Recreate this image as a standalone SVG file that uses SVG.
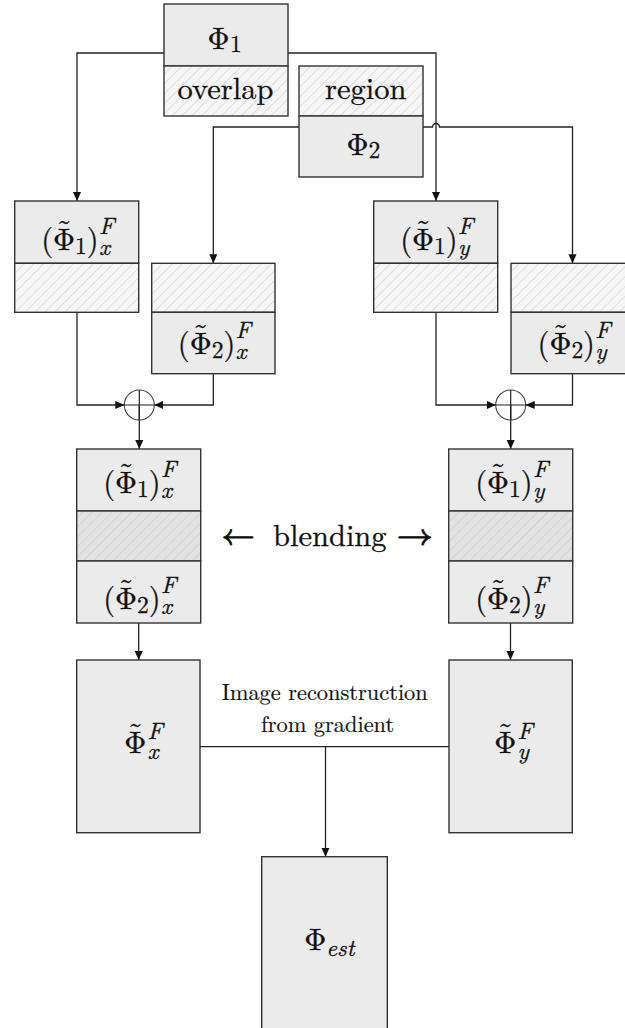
<svg xmlns="http://www.w3.org/2000/svg" width="625" height="1028" viewBox="0 0 625 1028">
<style>
.box{fill:#ebebeb;stroke:#333;stroke-width:1.4}
.hl{fill:url(#hatchL);stroke:#333;stroke-width:1.4}
.hd{fill:url(#hatchD);stroke:#333;stroke-width:1.4}
.c{fill:none;stroke:#222;stroke-width:1.3}
.a{marker-end:url(#arr)}
text{stroke:#111;stroke-width:0.3}
.t{font-size:30.5px;fill:#111}
.s{font-size:23.5px}
.i{font-style:italic;font-size:23.5px}
.w{font-size:30.5px;fill:#111}
.sm{font-size:22.4px;fill:#111;stroke-width:0.2}
.ar{font-size:30.5px;fill:#111;stroke-width:0.9}
</style>
<defs>
<pattern id="hatchL" width="7" height="7" patternUnits="userSpaceOnUse" patternTransform="rotate(45)">
<rect width="7" height="7" fill="#f6f6f6"/><line x1="0" y1="0" x2="0" y2="7" stroke="#d6d6d6" stroke-width="1.5"/>
</pattern>
<pattern id="hatchD" width="7" height="7" patternUnits="userSpaceOnUse" patternTransform="rotate(45)">
<rect width="7" height="7" fill="#e2e2e2"/><line x1="0" y1="0" x2="0" y2="7" stroke="#cdcdcd" stroke-width="1.5"/>
</pattern>
<marker id="arr" viewBox="0 0 10 10" refX="10" refY="5" markerWidth="9" markerHeight="9" markerUnits="userSpaceOnUse" orient="auto">
<path d="M0,0.5 L10,5 L0,9.5 z" fill="#111"/>
</marker>
</defs>

<g id="connectors">
<path class="c a" d="M164,53 H77 V201"/>
<path class="c a" d="M288,53 H436 V201"/>
<path class="c a" d="M299,127 H213.3 V263.3"/>
<path class="c a" d="M423,127 H432.5 A3.5,3.5 0 0 1 439.5,127 H572.5 V263.3"/>
<path class="c a" d="M77,312.3 V405 H124.3"/>
<path class="c a" d="M213.3,373.7 V405 H154.3"/>
<path class="c a" d="M139.3,405 V449"/>
<path class="c a" d="M436,312.3 V405 H495.7"/>
<path class="c a" d="M572.5,373.7 V405 H525.7"/>
<path class="c a" d="M510.7,405 V449"/>
<path class="c a" d="M138.7,623 V660"/>
<path class="c a" d="M510.5,623 V660"/>
<path class="c" d="M200,746.7 H449"/>
<path class="c a" d="M325.5,746.7 V856.7"/>
</g>

<g id="sum-x">
<circle cx="139.3" cy="405" r="15" fill="none" stroke="#444" stroke-width="1.1"/>
<path d="M124.3,405 H154.3 M139.3,390 V420" stroke="#222" stroke-width="1.2"/>
</g>
<g id="sum-y">
<circle cx="510.7" cy="405" r="15" fill="none" stroke="#444" stroke-width="1.1"/>
<path d="M495.7,405 H525.7 M510.7,390 V420" stroke="#222" stroke-width="1.2"/>
</g>

<g font-family="Latin Modern Roman, Latin Modern Math, FreeSerif, Noto Serif, serif">
<g id="phi1">
<rect class="box" x="164" y="4" width="124" height="62"/>
<rect class="hl" x="164" y="66" width="124" height="50"/>
<text class="t"><tspan x="207.5" y="48.5">Φ</tspan><tspan class="s" x="230" y="51.5">1</tspan></text>
<text class="w" x="225.5" y="99" text-anchor="middle">overlap</text>
</g>

<g id="phi2">
<rect class="hl" x="299" y="66" width="124" height="50"/>
<rect class="box" x="299" y="116" width="124" height="61"/>
<text class="w" x="365.8" y="99" text-anchor="middle">region</text>
<text class="t"><tspan x="346.5" y="155">Φ</tspan><tspan class="s" x="368.5" y="158">2</tspan></text>
</g>

<g id="phi1x">
<rect class="box" x="14.7" y="201" width="124" height="62.3"/>
<rect class="hl" x="14.7" y="263.3" width="124" height="49"/>
<text class="t"><tspan x="41.2" y="250">(</tspan><tspan x="53.1" y="250">Φ</tspan><tspan x="56.5" y="241">˜</tspan><tspan class="s" x="75.1" y="254">1</tspan><tspan x="86.8" y="250">)</tspan><tspan class="i" x="98.9" y="234">F</tspan><tspan class="i" x="98.9" y="255">x</tspan></text>
</g>

<g id="phi2x">
<rect class="hl" x="151.7" y="263.3" width="123.3" height="49"/>
<rect class="box" x="151.7" y="312.3" width="123.3" height="61.4"/>
<text class="t"><tspan x="177.8" y="354">(</tspan><tspan x="189.7" y="354">Φ</tspan><tspan x="193.1" y="345">˜</tspan><tspan class="s" x="211.7" y="358">2</tspan><tspan x="223.4" y="354">)</tspan><tspan class="i" x="235.5" y="338">F</tspan><tspan class="i" x="235.5" y="359">x</tspan></text>
</g>

<g id="phi1y">
<rect class="box" x="373.7" y="201" width="124" height="62.3"/>
<rect class="hl" x="373.7" y="263.3" width="124" height="49"/>
<text class="t"><tspan x="400.2" y="250">(</tspan><tspan x="412.1" y="250">Φ</tspan><tspan x="415.5" y="241">˜</tspan><tspan class="s" x="434.1" y="254">1</tspan><tspan x="445.8" y="250">)</tspan><tspan class="i" x="457.9" y="234">F</tspan><tspan class="i" x="457.9" y="255">y</tspan></text>
</g>

<g id="phi2y">
<rect class="hl" x="511" y="263.3" width="124" height="49"/>
<rect class="box" x="511" y="312.3" width="124" height="61.4"/>
<text class="t"><tspan x="537.5" y="354">(</tspan><tspan x="549.4" y="354">Φ</tspan><tspan x="552.8" y="345">˜</tspan><tspan class="s" x="571.4" y="358">2</tspan><tspan x="583.1" y="354">)</tspan><tspan class="i" x="595.2" y="338">F</tspan><tspan class="i" x="595.2" y="359">y</tspan></text>
</g>

<g id="stack-x">
<rect class="box" x="76.7" y="449" width="124" height="62"/>
<rect class="hd" x="76.7" y="511" width="124" height="50"/>
<rect class="box" x="76.7" y="561" width="124" height="62"/>
<text class="t"><tspan x="103.2" y="493">(</tspan><tspan x="115.1" y="493">Φ</tspan><tspan x="118.5" y="484">˜</tspan><tspan class="s" x="137.1" y="497">1</tspan><tspan x="148.8" y="493">)</tspan><tspan class="i" x="160.9" y="477">F</tspan><tspan class="i" x="160.9" y="498">x</tspan></text>
<text class="t"><tspan x="103.2" y="609">(</tspan><tspan x="115.1" y="609">Φ</tspan><tspan x="118.5" y="600">˜</tspan><tspan class="s" x="137.1" y="613">2</tspan><tspan x="148.8" y="609">)</tspan><tspan class="i" x="160.9" y="593">F</tspan><tspan class="i" x="160.9" y="614">x</tspan></text>
</g>

<g id="stack-y">
<rect class="box" x="448.7" y="449" width="124" height="62"/>
<rect class="hd" x="448.7" y="511" width="124" height="50"/>
<rect class="box" x="448.7" y="561" width="124" height="62"/>
<text class="t"><tspan x="475.2" y="493">(</tspan><tspan x="487.1" y="493">Φ</tspan><tspan x="490.5" y="484">˜</tspan><tspan class="s" x="509.1" y="497">1</tspan><tspan x="520.8" y="493">)</tspan><tspan class="i" x="532.9" y="477">F</tspan><tspan class="i" x="532.9" y="498">y</tspan></text>
<text class="t"><tspan x="475.2" y="609">(</tspan><tspan x="487.1" y="609">Φ</tspan><tspan x="490.5" y="600">˜</tspan><tspan class="s" x="509.1" y="613">2</tspan><tspan x="520.8" y="609">)</tspan><tspan class="i" x="532.9" y="593">F</tspan><tspan class="i" x="532.9" y="614">y</tspan></text>
</g>

<g id="blending">
<text class="ar" x="221.7" y="545" textLength="33" lengthAdjust="spacingAndGlyphs" font-family="Latin Modern Math, DejaVu Sans, sans-serif">←</text>
<text class="w" x="273" y="546">blending</text>
<text class="ar" x="396.7" y="545" textLength="36" lengthAdjust="spacingAndGlyphs" font-family="Latin Modern Math, DejaVu Sans, sans-serif">→</text>
</g>

<g id="phix">
<rect class="box" x="76.7" y="660" width="123.3" height="172.7"/>
<text class="t"><tspan x="124.3" y="752.7">Φ</tspan><tspan x="127.7" y="743.7">˜</tspan><tspan class="i" x="147.5" y="739">F</tspan><tspan class="i" x="147.5" y="759">x</tspan></text>
</g>

<g id="phiy">
<rect class="box" x="449" y="660" width="123.3" height="172.7"/>
<text class="t"><tspan x="494.3" y="752.7">Φ</tspan><tspan x="497.7" y="743.7">˜</tspan><tspan class="i" x="517.5" y="739">F</tspan><tspan class="i" x="517.5" y="759">y</tspan></text>
</g>

<g id="recon-label">
<text class="sm" x="324.7" y="700" text-anchor="middle">Image reconstruction</text>
<text class="sm" x="327.5" y="731.7" text-anchor="middle">from gradient</text>
</g>

<g id="phiest">
<rect class="box" x="261.7" y="856.7" width="125.6" height="200"/>
<text class="t"><tspan x="304.3" y="950">Φ</tspan><tspan class="i" x="326.3" y="956">est</tspan></text>
</g>
</g>
</svg>
